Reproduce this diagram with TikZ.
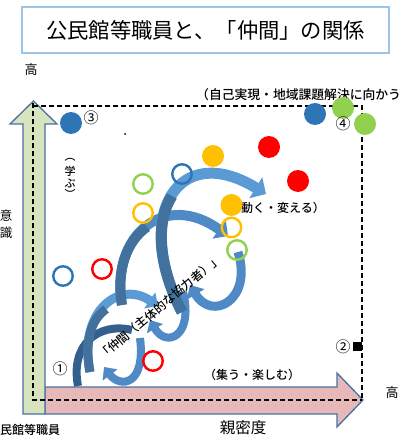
\documentclass[tikz,border=0pt]{standalone}
\usepackage{fontspec}
\setmainfont{Noto Sans CJK JP}
\newfontfamily\medfont{Noto Sans CJK JP Medium}
\usetikzlibrary{arrows.meta}
\definecolor{boxblue}{HTML}{9DC3E6}
\definecolor{vgreen}{HTML}{D7E4BD}
\definecolor{hpink}{HTML}{E6B9B8}
\definecolor{axisedge}{HTML}{4A6FA5}
\definecolor{cblue}{HTML}{2E75B6}
\definecolor{cgreen}{HTML}{92D050}
\definecolor{cyellow}{HTML}{FFC000}
\definecolor{cred}{HTML}{FF0000}
\definecolor{sLight}{HTML}{5B9BD5}
\definecolor{sMid}{HTML}{4F89C6}
\definecolor{sDark}{HTML}{41719C}
\definecolor{sDarker}{HTML}{335F8E}
\tikzset{
  axisarrow/.style={draw=axisedge, line width=1.3pt, line join=miter},
  dashline/.style={draw=black, line width=1.8pt, dash pattern=on 5pt off 3pt},
  fillc/.style={circle, minimum size=22pt, inner sep=0pt, fill=#1},
  ringc/.style={circle, minimum size=19.5pt, inner sep=0pt, draw=#1, line width=2.4pt},
  lbl/.style={inner sep=0pt, font=\fontsize{12}{14}\selectfont\medfont},
  num/.style={inner sep=0pt, font=\fontsize{15}{16}\selectfont}
}
\begin{document}
\begin{tikzpicture}[x=1pt,y=-1pt]
\useasboundingbox (0,0) rectangle (404,446);
% title
\node[draw=boxblue, line width=1.4pt, minimum width=367pt, minimum height=46pt, inner sep=0pt] (title) at (205.5,30) {\fontsize{21.3}{24}\selectfont 公民館等職員と、「仲間」の関係};
% axes
\draw[axisarrow, fill=hpink] (45,387) -- (337,387) -- (337,373) -- (363,400) -- (337,427) -- (337,414) -- (45,414) -- cycle;
\draw[axisarrow, fill=vgreen] (23,414) -- (23,124) -- (10,124) -- (33.5,101) -- (57,124) -- (45,124) -- (45,414) -- cycle;
\coordinate (c0) at (33,103);
\coordinate (c1) at (33,400);
\coordinate (c2) at (362,400);
\coordinate (c3) at (33,106);
\coordinate (c4) at (362,106);
\draw[dashline] (c0) -- (c1) -- (c2);
\draw[dashline] (c3) -- (c4) -- (c2);
% spiral arrows (back parts)
\draw[line width=8pt, sDarker] (78,386) .. controls (70,345) and (98,322) .. (132,330);
\draw[line width=8pt, sMid, -{Triangle[length=10pt,width=18pt]}] (140,338) .. controls (146,386) and (120,388) .. (104,367);
\draw[line width=8pt, sMid, -{Triangle[length=10pt,width=18pt]}] (183,292) .. controls (194,337) and (166,348) .. (150,320);
\draw[line width=9pt, sMid, -{Triangle[length=11pt,width=20pt]}] (238,252) .. controls (253,300) and (212,322) .. (190,285);
% front parts
\draw[line width=9pt, sLight, -{Triangle[length=10pt,width=19pt]}] (90,372) .. controls (78,310) and (120,280) .. (158,306);
\draw[line width=9pt, sDark] (90,372) .. controls (84,341) and (91,320) .. (106,309);
\draw[line width=10pt, sMid, -{Triangle[length=11pt,width=22pt]}] (122,305) .. controls (110,235) and (165,190) .. (228,236);
\draw[line width=10pt, sDark] (122,305) .. controls (116,270) and (126.75,241.25) .. (146.9,227);
\draw[line width=11pt, sLight, -{Triangle[length=12pt,width=24pt]}] (182,312) .. controls (132,215) and (178,140) .. (266,194);
\draw[line width=11pt, sDark] (182,312) .. controls (157,263.5) and (156,220.5) .. (172,196);
% labels
\node[inner sep=0pt, font=\fontsize{13}{14}\selectfont] (hiTop) at (31,70) {高};
\node[inner sep=0pt, font=\fontsize{13}{14}\selectfont] (hiRight) at (392,393) {高};
\node[lbl, anchor=west, font=\fontsize{12.8}{14}\selectfont\medfont] (goal) at (196,95) {（自己実現・地域課題解決に向かう};
\node[lbl, font=\fontsize{11}{12}\selectfont\medfont] (l1) at (70,160) {︵};
\node[lbl, font=\fontsize{11}{12}\selectfont\medfont] (l2) at (70,171) {学};
\node[lbl, font=\fontsize{11}{12}\selectfont\medfont] (l3) at (70,183) {ぶ};
\node[lbl, font=\fontsize{11}{12}\selectfont\medfont] (l4) at (70,194) {︶};
\node[inner sep=0pt, font=\fontsize{12.5}{14}\selectfont] (i1) at (6,216) {意};
\node[inner sep=0pt, font=\fontsize{12.5}{14}\selectfont] (i2) at (6,233) {識};
\node[lbl] (staff) at (24,430) {公民館等職員};
\node[inner sep=0pt, font=\fontsize{15.5}{16}\selectfont] (intim) at (243,428) {親密度};
\node[lbl] (gather) at (252,375) {（集う・楽しむ）};
\node[lbl, anchor=west] (move) at (241,208) {動く・変える）};
\node[lbl, rotate=40] (nakama) at (160,307) {「仲間（主体的な協力者）」};
% circles
\node[fillc=cblue] (b3) at (71,123) {};
\node[fillc=cblue] (bTR) at (315,114) {};
\node[fillc=cgreen] (g1) at (343,108) {};
\node[fillc=cgreen] (g2) at (365,124) {};
\node[fillc=cred] (r1) at (269,147) {};
\node[fillc=cred] (r2) at (298,181) {};
\node[fillc=cyellow] (y1) at (213,156) {};
\node[fillc=cyellow] (y2) at (231.5,205) {};
\node[ringc=cblue] (ob1) at (182,174) {};
\node[ringc=cgreen] (og1) at (143,184) {};
\node[ringc=cyellow] (oy1) at (143,213) {};
\node[ringc=cred] (or1) at (102,269) {};
\node[ringc=cblue] (ob2) at (63,276) {};
\node[ringc=cred] (or2) at (153,361) {};
\node[ringc=cyellow] (oy2) at (231.5,227.5) {};
\node[ringc=cgreen] (og2) at (237,250) {};
\node[circle, fill=black, minimum size=2pt, inner sep=0pt] (dot) at (125,134) {};
% numbers
\node[num] (n1) at (60,369) {①};
\node[num] (n2) at (343,347) {②};
\node[num] (n3) at (91,118) {③};
\node[num] (n4) at (343,124) {④};
\node[fill=black, minimum size=8.5pt, inner sep=0pt] (sq) at (357.5,346.5) {};
\end{tikzpicture}
\end{document}
